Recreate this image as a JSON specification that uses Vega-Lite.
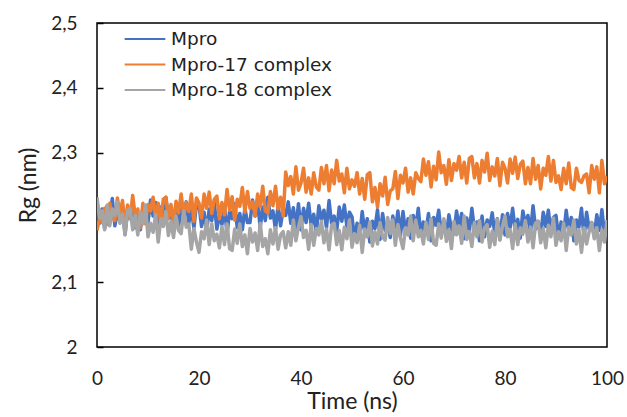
{
  "$schema": "https://vega.github.io/schema/vega-lite/v6.json",
  "width": 510,
  "height": 324,
  "autosize": {"type": "none"},
  "padding": {"left": 97, "top": 23, "right": 20, "bottom": 70},
  "background": "white",
  "config": {
    "view": {"stroke": "black", "strokeWidth": 1.5},
    "axis": {"grid": false, "domain": false, "labelFont": "Lato", "titleFont": "Lato", "labelColor": "#222", "titleColor": "#222", "labelFontSize": 19, "titleFontSize": 23, "titleFontWeight": "normal"}
  },
  "data": {"values": [
{"t":0,"a":2.224,"b":2.180,"c":2.231},{"t":0.5,"a":2.191,"b":2.198,"c":2.199},{"t":1,"a":2.213,"b":2.192,"c":2.210},{"t":1.5,"a":2.183,"b":2.214,"c":2.181},{"t":2,"a":2.218,"b":2.189,"c":2.219},{"t":2.5,"a":2.200,"b":2.222,"c":2.187},{"t":3,"a":2.229,"b":2.200,"c":2.213},{"t":3.5,"a":2.187,"b":2.195,"c":2.203},{"t":4,"a":2.208,"b":2.230,"c":2.224},{"t":4.5,"a":2.194,"b":2.205,"c":2.191},
{"t":5,"a":2.216,"b":2.226,"c":2.205},{"t":5.5,"a":2.174,"b":2.187,"c":2.173},{"t":6,"a":2.210,"b":2.219,"c":2.211},{"t":6.5,"a":2.198,"b":2.198,"c":2.214},{"t":7,"a":2.221,"b":2.234,"c":2.181},{"t":7.5,"a":2.184,"b":2.202,"c":2.203},{"t":8,"a":2.206,"b":2.213,"c":2.173},{"t":8.5,"a":2.181,"b":2.184,"c":2.208},{"t":9,"a":2.214,"b":2.222,"c":2.190},{"t":9.5,"a":2.192,"b":2.190,"c":2.219},
{"t":10,"a":2.192,"b":2.220,"c":2.170},{"t":10.5,"a":2.227,"b":2.210,"c":2.191},{"t":11,"a":2.202,"b":2.231,"c":2.177},{"t":11.5,"a":2.223,"b":2.198,"c":2.204},{"t":12,"a":2.184,"b":2.222,"c":2.162},{"t":12.5,"a":2.216,"b":2.190,"c":2.198},{"t":13,"a":2.195,"b":2.228,"c":2.186},{"t":13.5,"a":2.231,"b":2.231,"c":2.209},{"t":14,"a":2.199,"b":2.198,"c":2.172},{"t":14.5,"a":2.210,"b":2.220,"c":2.194},
{"t":15,"a":2.181,"b":2.190,"c":2.169},{"t":15.5,"a":2.219,"b":2.225,"c":2.202},{"t":16,"a":2.187,"b":2.207,"c":2.180},{"t":16.5,"a":2.213,"b":2.236,"c":2.175},{"t":17,"a":2.203,"b":2.202,"c":2.210},{"t":17.5,"a":2.224,"b":2.223,"c":2.185},{"t":18,"a":2.191,"b":2.209,"c":2.190},{"t":18.5,"a":2.215,"b":2.236,"c":2.151},{"t":19,"a":2.183,"b":2.194,"c":2.183},{"t":19.5,"a":2.221,"b":2.230,"c":2.162},
{"t":20,"a":2.219,"b":2.222,"c":2.146},{"t":20.5,"a":2.186,"b":2.199,"c":2.178},{"t":21,"a":2.208,"b":2.236,"c":2.167},{"t":21.5,"a":2.178,"b":2.214,"c":2.196},{"t":22,"a":2.213,"b":2.239,"c":2.158},{"t":22.5,"a":2.195,"b":2.206,"c":2.190},{"t":23,"a":2.224,"b":2.228,"c":2.164},{"t":23.5,"a":2.182,"b":2.233,"c":2.174},{"t":24,"a":2.203,"b":2.198,"c":2.153},{"t":24.5,"a":2.189,"b":2.223,"c":2.186},
{"t":25,"a":2.216,"b":2.204,"c":2.158},{"t":25.5,"a":2.174,"b":2.243,"c":2.190},{"t":26,"a":2.210,"b":2.211,"c":2.152},{"t":26.5,"a":2.198,"b":2.232,"c":2.149},{"t":27,"a":2.221,"b":2.196,"c":2.182},{"t":27.5,"a":2.184,"b":2.228,"c":2.160},{"t":28,"a":2.206,"b":2.217,"c":2.190},{"t":28.5,"a":2.181,"b":2.246,"c":2.155},{"t":29,"a":2.214,"b":2.208,"c":2.173},{"t":29.5,"a":2.192,"b":2.240,"c":2.144},
{"t":30,"a":2.192,"b":2.214,"c":2.183},{"t":30.5,"a":2.227,"b":2.224,"c":2.162},{"t":31,"a":2.202,"b":2.203,"c":2.176},{"t":31.5,"a":2.223,"b":2.236,"c":2.149},{"t":32,"a":2.184,"b":2.216,"c":2.191},{"t":32.5,"a":2.216,"b":2.248,"c":2.155},{"t":33,"a":2.195,"b":2.210,"c":2.167},{"t":33.5,"a":2.231,"b":2.207,"c":2.144},{"t":34,"a":2.199,"b":2.240,"c":2.181},{"t":34.5,"a":2.210,"b":2.218,"c":2.159},
{"t":35,"a":2.181,"b":2.248,"c":2.184},{"t":35.5,"a":2.219,"b":2.213,"c":2.151},{"t":36,"a":2.187,"b":2.231,"c":2.173},{"t":36.5,"a":2.213,"b":2.202,"c":2.178},{"t":37,"a":2.203,"b":2.270,"c":2.153},{"t":37.5,"a":2.224,"b":2.249,"c":2.178},{"t":38,"a":2.191,"b":2.263,"c":2.157},{"t":38.5,"a":2.215,"b":2.236,"c":2.196},{"t":39,"a":2.183,"b":2.278,"c":2.164},{"t":39.5,"a":2.221,"b":2.242,"c":2.185},
{"t":40,"a":2.181,"b":2.253,"c":2.201},{"t":40.5,"a":2.214,"b":2.276,"c":2.169},{"t":41,"a":2.192,"b":2.239,"c":2.180},{"t":41.5,"a":2.222,"b":2.261,"c":2.151},{"t":42,"a":2.187,"b":2.236,"c":2.189},{"t":42.5,"a":2.205,"b":2.269,"c":2.157},{"t":43,"a":2.176,"b":2.247,"c":2.183},{"t":43.5,"a":2.218,"b":2.242,"c":2.173},{"t":44,"a":2.197,"b":2.277,"c":2.194},{"t":44.5,"a":2.211,"b":2.252,"c":2.161},
{"t":45,"a":2.184,"b":2.280,"c":2.182},{"t":45.5,"a":2.226,"b":2.241,"c":2.150},{"t":46,"a":2.190,"b":2.273,"c":2.188},{"t":46.5,"a":2.202,"b":2.252,"c":2.191},{"t":47,"a":2.179,"b":2.288,"c":2.158},{"t":47.5,"a":2.216,"b":2.256,"c":2.180},{"t":48,"a":2.194,"b":2.267,"c":2.150},{"t":48.5,"a":2.219,"b":2.238,"c":2.185},{"t":49,"a":2.186,"b":2.276,"c":2.167},{"t":49.5,"a":2.208,"b":2.244,"c":2.196},
{"t":50,"a":2.201,"b":2.258,"c":2.154},{"t":50.5,"a":2.166,"b":2.248,"c":2.175},{"t":51,"a":2.191,"b":2.269,"c":2.161},{"t":51.5,"a":2.170,"b":2.236,"c":2.188},{"t":52,"a":2.209,"b":2.260,"c":2.146},{"t":52.5,"a":2.177,"b":2.228,"c":2.182},{"t":53,"a":2.198,"b":2.266,"c":2.170},{"t":53.5,"a":2.162,"b":2.269,"c":2.193},{"t":54,"a":2.194,"b":2.224,"c":2.156},{"t":54.5,"a":2.183,"b":2.246,"c":2.178},
{"t":55,"a":2.212,"b":2.216,"c":2.159},{"t":55.5,"a":2.166,"b":2.252,"c":2.192},{"t":56,"a":2.206,"b":2.233,"c":2.170},{"t":56.5,"a":2.180,"b":2.262,"c":2.165},{"t":57,"a":2.190,"b":2.220,"c":2.200},{"t":57.5,"a":2.169,"b":2.241,"c":2.175},{"t":58,"a":2.202,"b":2.244,"c":2.196},{"t":58.5,"a":2.178,"b":2.271,"c":2.157},{"t":59,"a":2.210,"b":2.229,"c":2.189},{"t":59.5,"a":2.172,"b":2.265,"c":2.168},
{"t":60,"a":2.209,"b":2.253,"c":2.152},{"t":60.5,"a":2.176,"b":2.276,"c":2.184},{"t":61,"a":2.198,"b":2.239,"c":2.173},{"t":61.5,"a":2.168,"b":2.261,"c":2.202},{"t":62,"a":2.203,"b":2.236,"c":2.164},{"t":62.5,"a":2.185,"b":2.269,"c":2.196},{"t":63,"a":2.214,"b":2.260,"c":2.170},{"t":63.5,"a":2.172,"b":2.255,"c":2.180},{"t":64,"a":2.193,"b":2.290,"c":2.159},{"t":64.5,"a":2.179,"b":2.265,"c":2.192},
{"t":65,"a":2.206,"b":2.286,"c":2.166},{"t":65.5,"a":2.164,"b":2.247,"c":2.198},{"t":66,"a":2.200,"b":2.279,"c":2.160},{"t":66.5,"a":2.188,"b":2.258,"c":2.157},{"t":67,"a":2.211,"b":2.301,"c":2.190},{"t":67.5,"a":2.174,"b":2.269,"c":2.168},{"t":68,"a":2.196,"b":2.280,"c":2.198},{"t":68.5,"a":2.171,"b":2.251,"c":2.163},{"t":69,"a":2.204,"b":2.289,"c":2.181},{"t":69.5,"a":2.182,"b":2.257,"c":2.152},
{"t":70,"a":2.175,"b":2.283,"c":2.194},{"t":70.5,"a":2.210,"b":2.273,"c":2.173},{"t":71,"a":2.185,"b":2.294,"c":2.187},{"t":71.5,"a":2.206,"b":2.261,"c":2.160},{"t":72,"a":2.167,"b":2.285,"c":2.202},{"t":72.5,"a":2.199,"b":2.253,"c":2.166},{"t":73,"a":2.178,"b":2.291,"c":2.178},{"t":73.5,"a":2.214,"b":2.294,"c":2.155},{"t":74,"a":2.182,"b":2.261,"c":2.192},{"t":74.5,"a":2.193,"b":2.283,"c":2.170},
{"t":75,"a":2.164,"b":2.253,"c":2.195},{"t":75.5,"a":2.202,"b":2.288,"c":2.162},{"t":76,"a":2.170,"b":2.270,"c":2.184},{"t":76.5,"a":2.196,"b":2.299,"c":2.189},{"t":77,"a":2.186,"b":2.257,"c":2.154},{"t":77.5,"a":2.207,"b":2.278,"c":2.179},{"t":78,"a":2.174,"b":2.264,"c":2.158},{"t":78.5,"a":2.198,"b":2.291,"c":2.197},{"t":79,"a":2.166,"b":2.249,"c":2.165},{"t":79.5,"a":2.204,"b":2.285,"c":2.186},
{"t":80,"a":2.173,"b":2.276,"c":2.202},{"t":80.5,"a":2.206,"b":2.253,"c":2.170},{"t":81,"a":2.184,"b":2.290,"c":2.181},{"t":81.5,"a":2.214,"b":2.268,"c":2.152},{"t":82,"a":2.179,"b":2.293,"c":2.190},{"t":82.5,"a":2.197,"b":2.260,"c":2.158},{"t":83,"a":2.168,"b":2.282,"c":2.184},{"t":83.5,"a":2.210,"b":2.287,"c":2.174},{"t":84,"a":2.189,"b":2.252,"c":2.195},{"t":84.5,"a":2.203,"b":2.277,"c":2.162},
{"t":85,"a":2.176,"b":2.252,"c":2.185},{"t":85.5,"a":2.218,"b":2.291,"c":2.153},{"t":86,"a":2.182,"b":2.259,"c":2.191},{"t":86.5,"a":2.194,"b":2.280,"c":2.194},{"t":87,"a":2.171,"b":2.244,"c":2.161},{"t":87.5,"a":2.208,"b":2.276,"c":2.183},{"t":88,"a":2.186,"b":2.265,"c":2.153},{"t":88.5,"a":2.211,"b":2.294,"c":2.188},{"t":89,"a":2.178,"b":2.256,"c":2.170},{"t":89.5,"a":2.200,"b":2.288,"c":2.199},
{"t":90,"a":2.203,"b":2.254,"c":2.157},{"t":90.5,"a":2.168,"b":2.264,"c":2.178},{"t":91,"a":2.193,"b":2.243,"c":2.164},{"t":91.5,"a":2.172,"b":2.276,"c":2.191},{"t":92,"a":2.211,"b":2.252,"c":2.149},{"t":92.5,"a":2.179,"b":2.284,"c":2.185},{"t":93,"a":2.200,"b":2.246,"c":2.173},{"t":93.5,"a":2.164,"b":2.243,"c":2.196},{"t":94,"a":2.196,"b":2.276,"c":2.159},{"t":94.5,"a":2.185,"b":2.257,"c":2.181},
{"t":95,"a":2.214,"b":2.254,"c":2.146},{"t":95.5,"a":2.168,"b":2.264,"c":2.184},{"t":96,"a":2.208,"b":2.267,"c":2.159},{"t":96.5,"a":2.182,"b":2.238,"c":2.178},{"t":97,"a":2.192,"b":2.280,"c":2.192},{"t":97.5,"a":2.171,"b":2.259,"c":2.167},{"t":98,"a":2.204,"b":2.278,"c":2.184},{"t":98.5,"a":2.180,"b":2.238,"c":2.149},{"t":99,"a":2.212,"b":2.288,"c":2.181},{"t":99.5,"a":2.174,"b":2.252,"c":2.162},
{"t":100,"a":2.171,"b":2.264,"c":2.196}
  ]},
  "transform": [{"fold": ["a", "b", "c"], "as": ["series", "rg"]}],
  "mark": {"type": "line", "strokeWidth": 3.5, "strokeJoin": "round", "clip": true},
  "encoding": {
    "x": {"field": "t", "type": "quantitative", "scale": {"domain": [0, 100], "nice": false}, "axis": {"values": [0, 20, 40, 60, 80, 100], "ticks": false, "labelPadding": 22, "title": "Time (ns)", "titlePadding": 2, "labelFlush": false}},
    "y": {"field": "rg", "type": "quantitative", "scale": {"domain": [2, 2.5], "nice": false, "zero": false}, "axis": {"values": [2, 2.1, 2.2, 2.3, 2.4, 2.5], "tickSize": -6, "tickColor": "black", "tickWidth": 1.5, "labelPadding": 26, "title": "Rg (nm)", "titlePadding": 10, "labelExpr": "datum.value == 2 ? '2' : replace(format(datum.value, '.1f'), '.', ',')"}},
    "color": {"field": "series", "type": "nominal", "scale": {"domain": ["a", "b", "c"], "range": ["#4472C4", "#ED7D31", "#A5A5A5"]},
      "legend": {"title": null, "orient": "none", "legendX": 36, "legendY": 4, "symbolType": "M-1.85,0H1.85", "symbolSize": 484, "symbolStrokeWidth": 2, "labelFont": "DejaVu Sans", "labelFontSize": 18.5, "labelLimit": 400, "labelColor": "#222", "rowPadding": 3.5, "labelOffset": 14,
        "labelExpr": "datum.label == 'a' ? 'Mpro' : datum.label == 'b' ? 'Mpro-17 complex' : 'Mpro-18 complex'"}}
  }
}
